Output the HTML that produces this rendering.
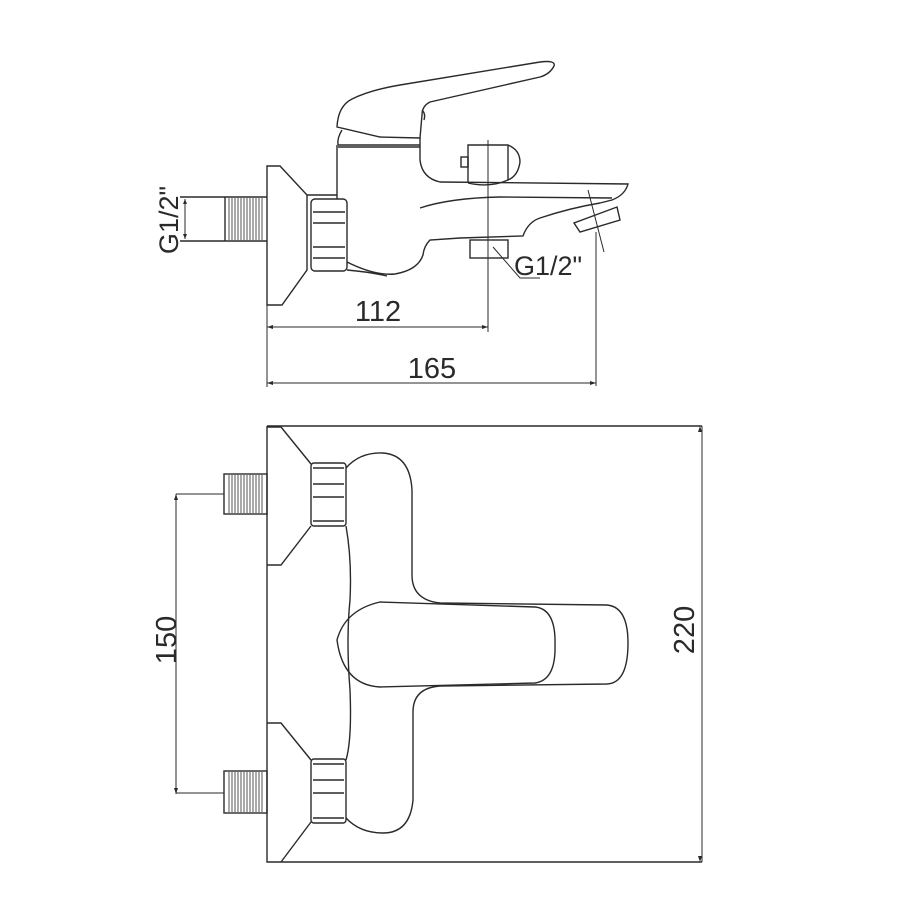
<!DOCTYPE html>
<html><head><meta charset="utf-8"><style>html,body{margin:0;padding:0;background:#fff}svg{display:block}</style></head>
<body>
<svg width="900" height="900" viewBox="0 0 900 900" xmlns="http://www.w3.org/2000/svg" fill="none" stroke="#2a2a2a" stroke-width="1.4" font-family="Liberation Sans, Arial, sans-serif">
<!-- TOP VIEW -->
<path d="M267 166 L280 166 L307 195 L307 270 L282 305 L267 305 Z"/>
<path d="M225 197 L267 197 M225 241 L267 241 M225 197 L225 241 M180 197 L225 197 M180 241 L225 241"/>
<g stroke-width="0.8">
<path d="M229 198V240M232 198V240M235 198V240M238 198V240M241 198V240M244 198V240M247 198V240M250 198V240M253 198V240M256 198V240M259 198V240M262 198V240"/>
</g>
<path d="M185 199 V239" stroke-width="1"/>
<path d="M185 199 l-2 5 h4z M185 239 l-2 -5 h4z" fill="#2a2a2a" stroke="none"/>
<text transform="translate(178 220) rotate(-90)" text-anchor="middle" font-size="27" fill="#2a2a2a" stroke="none">G1/2"</text>
<rect x="311" y="199" width="36" height="72" rx="4"/>
<path d="M313 212 H345 M313 223 H345 M313 247 H345 M313 258 H345"/>
<path d="M307 195 H337"/>
<path d="M337 145 V199"/>
<path d="M338 145 H420 M338 147 H420"/>
<path d="M342 130 Q337 138 338 145"/>
<path d="M337 127 Q338 106 352 99 Q370 90 400 85 L540 62 Q556 60 554 66 Q550 74 540 77 L430 102 Q422 106 422 115 L420 138 L380 137 L337 127 Z"/>
<path d="M422 110 Q426 114 424 120" />
<path d="M420 138 V160 Q422 178 440 182 L628 184 Q625 195 612 200 L600 203"/>
<path d="M468 183 V145 H508 Q520 150 520 162 Q518 176 508 180 Q490 188 468 183"/>
<path d="M508 145 V180"/>
<rect x="461" y="157" width="7" height="10"/>
<path d="M420 208 Q450 198 500 197 L612 198"/>
<path d="M617 207 L620 220 L580 232 L574 223 Z"/>
<path d="M600 203 Q570 208 540 218 Q528 222 523 236 L460 238 L430 240 Q424 246 423 255 Q418 270 395 274 Q375 276 347 262"/>
<path d="M347 270 Q370 272 387 276"/>
<rect x="470" y="240" width="38" height="18"/>
<path d="M493 247 L520 278 L540 278" stroke-width="1"/>
<text x="514" y="275" font-size="27" fill="#2a2a2a" stroke="none">G1/2"</text>
<path d="M588 190 L604 252" stroke-width="1"/>
<path d="M488 140 V332 M596 232 V386 M267 305 V387" stroke-width="1"/>
<path d="M267 327 H488 M267 383 H596" stroke-width="1"/>
<path d="M267 327 l6 -2 v4z M488 327 l-6 -2 v4z M267 383 l6 -2 v4z M596 383 l-6 -2 v4z" fill="#2a2a2a" stroke="none"/>
<text x="378" y="321" text-anchor="middle" font-size="29" fill="#2a2a2a" stroke="none">112</text>
<text x="432" y="378" text-anchor="middle" font-size="29" fill="#2a2a2a" stroke="none">165</text>

<!-- BOTTOM VIEW -->
<path d="M267 426 H702 M267 426 V862 H702" />
<path d="M702 426 V862" stroke-width="1"/>
<path d="M700 426 l-2 6 h4z M700 862 l-2 -6 h4z" fill="#2a2a2a" stroke="none"/>
<text transform="translate(694 630) rotate(-90)" text-anchor="middle" font-size="29" fill="#2a2a2a" stroke="none">220</text>
<path d="M267 427 L281 427 L311 464 M311 526 L281 565 L267 565"/>
<path d="M267 723 L281 723 L311 760 M311 822 L281 862"/>
<rect x="311" y="463" width="35" height="63" rx="3"/>
<path d="M313 468 H344 M313 484 H344 M313 497 H344 M313 521 H344"/>
<rect x="311" y="759" width="35" height="64" rx="3"/>
<path d="M313 764 H344 M313 780 H344 M313 793 H344 M313 818 H344"/>
<rect x="224" y="474" width="43" height="40"/>
<rect x="224" y="771" width="43" height="42"/>
<g stroke-width="0.8">
<path d="M229 475V513M232 475V513M235 475V513M238 475V513M241 475V513M244 475V513M247 475V513M250 475V513M253 475V513M256 475V513M259 475V513M262 475V513"/>
<path d="M229 772V812M232 772V812M235 772V812M238 772V812M241 772V812M244 772V812M247 772V812M250 772V812M253 772V812M256 772V812M259 772V812M262 772V812"/>
</g>
<path d="M176 494 V794 M176 494 H224 M176 793 H224" stroke-width="1"/>
<path d="M176 494 l-2 6 h4z M176 794 l-2 -6 h4z" fill="#2a2a2a" stroke="none"/>
<text transform="translate(176 640) rotate(-90)" text-anchor="middle" font-size="29" fill="#2a2a2a" stroke="none">150</text>
<path d="M346 468 Q360 452 383 453 Q410 455 412 490 L412 575 Q412 600 440 603 L607 605 Q628 607 628 643 Q628 683 607 684 L440 686 Q413 688 413 712 L413 800 Q410 833 383 833 Q360 833 346 818"/>
<path d="M346 526 Q352 560 350 600 Q346 640 350 690 Q352 740 346 760"/>
<path d="M380 602 Q345 610 337 640 Q343 685 380 687 L535 683 Q556 680 555 645 Q556 609 535 607 Z"/>
</svg>
</body></html>
